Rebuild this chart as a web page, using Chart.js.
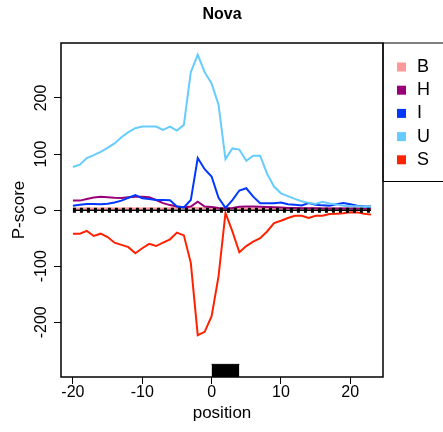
<!DOCTYPE html>
<html>
<head>
<meta charset="utf-8">
<script src="https://cdn.jsdelivr.net/npm/chart.js@4"></script>
<style>
  html, body { margin: 0; padding: 0; background: #fff; }
  #wrap { width: 443px; height: 432px; position: relative; }
</style>
</head>
<body>
<div id="wrap"><canvas id="chart" width="443" height="432"></canvas></div>
<script>
const positions = [-20,-19,-18,-17,-16,-15,-14,-13,-12,-11,-10,-9,-8,-7,-6,-5,-4,-3,-2,-1,0,1,2,3,4,5,6,7,8,9,10,11,12,13,14,15,16,17,18,19,20,21,22,23];
const seriesB = [3,3,3.5,3,3,3.5,3,3,3.5,3,3,3.5,3,3,3.5,4,4,4.5,4,3.5,3,3,2.5,3,3,3,3,3,3,3,3,3,3,3,3,3,3,3,3,3,3,3,3,3];
const seriesH = [17,17,20,22.5,24,23,22,21.5,23,24,24,23,18,12.5,9,6.5,5,6.5,15,6.5,5.5,4,3,4,6,6.5,6.5,6,5.5,5,4.5,4,4,3.5,3.5,3.5,3,3,3,3,3,3,3,3];
const seriesI = [8,9.5,11,11,10.5,11.5,13.5,17,22,27,21,20,18,18,17.5,6.5,5,18,93,73,60,22,4,18,35,39,24,12.5,12.5,12.5,13.5,10.5,9.5,8.5,12.5,9.5,8.5,8,10.5,12.5,10.5,8,6.5,6.5];
const seriesU = [77,81,93,98,104,111,119,130,139,146,149,149,149,143,149,142,152,246,277,246,226,188,91,110,108,88,97,97,65,42,30,25,20,16,13,11,15,12,10,8,7,7,6,6];
const seriesS = [-42,-42,-37,-46,-42,-48,-58,-62,-66,-77,-68,-60,-64,-58,-52,-40,-45,-94,-223,-217,-189,-118,-5,-38,-75,-64,-56,-50,-38,-23,-19,-14,-10,-10,-14,-10,-10,-7,-6.5,-5.5,-3.6,-4,-6.5,-8];

const seriesNames = ['B', 'H', 'I', 'U', 'S'];
const seriesColors = ['#FF9999', '#990077', '#0038FF', '#66CCFF', '#FF2200'];
const seriesValues = [seriesB, seriesH, seriesI, seriesU, seriesS];

const xTicks = [-20, -10, 0, 10, 20];
const yTicks = [-200, -100, 0, 100, 200];
const xRange = [-21.72, 24.72];
const yRange = [-297.5, 298];
// black block marking the motif, positions 0..4
const motifStart = 0, motifEnd = 4, motifTop = -275;

const FONT = '"Liberation Sans", Arial, sans-serif';

const toPts = vals => vals.map((v, i) => ({ x: positions[i], y: v }));

const datasets = seriesValues.map((vals, i) => ({
  label: seriesNames[i],
  data: toPts(vals),
  borderColor: seriesColors[i],
  borderWidth: 2,
  pointRadius: 0,
  tension: 0,
  fill: false,
  order: 10 - i
}));

// baseline at 0: dotted band + thin solid line on top
datasets.push({
  label: 'zero-dots',
  data: [{ x: positions[0], y: 0 }, { x: positions[positions.length - 1], y: 0 }],
  borderColor: '#000',
  borderWidth: 5,
  borderDash: [3, 4],
  pointRadius: 0,
  fill: false,
  order: 2
});
datasets.push({
  label: 'zero-line',
  data: [{ x: positions[0], y: 0 }, { x: positions[positions.length - 1], y: 0 }],
  borderColor: '#000',
  borderWidth: 1.5,
  pointRadius: 0,
  fill: false,
  order: 1
});
datasets.push({
  label: 'motif',
  data: [{ x: motifStart, y: motifTop }, { x: motifEnd, y: motifTop }],
  borderColor: '#000',
  borderWidth: 1,
  backgroundColor: '#000',
  pointRadius: 0,
  fill: 'start',
  order: 0
});

const decor = {
  id: 'decor',
  afterDraw(chart) {
    const { ctx, chartArea: a, scales } = chart;
    ctx.save();
    // plot box
    ctx.strokeStyle = '#000';
    ctx.lineWidth = 1.5;
    ctx.strokeRect(a.left, a.top, a.right - a.left, a.bottom - a.top);

    // title
    ctx.fillStyle = '#000';
    ctx.font = 'bold 16px ' + FONT;
    ctx.textAlign = 'center';
    ctx.textBaseline = 'middle';
    ctx.fillText('Nova', (a.left + a.right) / 2, 15);

    // y tick labels, rotated
    ctx.font = '16px ' + FONT;
    yTicks.forEach(v => {
      const py = scales.y.getPixelForValue(v);
      ctx.save();
      ctx.translate(42, py);
      ctx.rotate(-Math.PI / 2);
      ctx.fillText(String(v), 0, 0);
      ctx.restore();
    });
    // y axis title
    ctx.font = '17px ' + FONT;
    ctx.save();
    ctx.translate(19, (a.top + a.bottom) / 2);
    ctx.rotate(-Math.PI / 2);
    ctx.fillText('P-score', 0, 0);
    ctx.restore();
    // x axis title
    ctx.fillText('position', (a.left + a.right) / 2, 413);

    // legend box
    ctx.lineWidth = 1;
    ctx.strokeStyle = '#000';
    ctx.beginPath();
    ctx.moveTo(chart.width + 2, a.top);
    ctx.lineTo(a.right, a.top);
    ctx.lineTo(a.right, 181.5);
    ctx.lineTo(chart.width + 2, 181.5);
    ctx.stroke();
    ctx.font = '18px ' + FONT;
    ctx.textAlign = 'left';
    seriesNames.forEach((name, i) => {
      const cy = 67 + i * 23.2;
      ctx.fillStyle = seriesColors[i];
      ctx.fillRect(397, cy - 4.5, 9, 9);
      ctx.fillStyle = '#000';
      ctx.fillText(name, 417, cy);
    });
    ctx.restore();
  }
};

new Chart(document.getElementById('chart'), {
  type: 'line',
  data: { datasets },
  options: {
    responsive: false,
    animation: false,
    events: [],
    layout: { padding: { left: 0, top: 43, right: 60, bottom: 0 } },
    plugins: { legend: { display: false }, tooltip: { enabled: false }, title: { display: false } },
    scales: {
      x: {
        type: 'linear',
        min: xRange[0],
        max: xRange[1],
        afterBuildTicks: s => { s.ticks = xTicks.map(v => ({ value: v })); },
        afterFit: s => { s.height = 55; },
        grid: { drawOnChartArea: false, drawTicks: true, tickLength: 7, color: '#000', lineWidth: 1 },
        border: { display: false },
        ticks: { color: '#000', font: { family: FONT, size: 16 }, padding: -1, maxRotation: 0 }
      },
      y: {
        type: 'linear',
        min: yRange[0],
        max: yRange[1],
        afterBuildTicks: s => { s.ticks = yTicks.map(v => ({ value: v })); },
        afterFit: s => { s.width = 61; },
        grid: { drawOnChartArea: false, drawTicks: true, tickLength: 7, color: '#000', lineWidth: 1 },
        border: { display: false },
        ticks: { display: false }
      }
    }
  },
  plugins: [decor]
});
</script>
</body>
</html>
